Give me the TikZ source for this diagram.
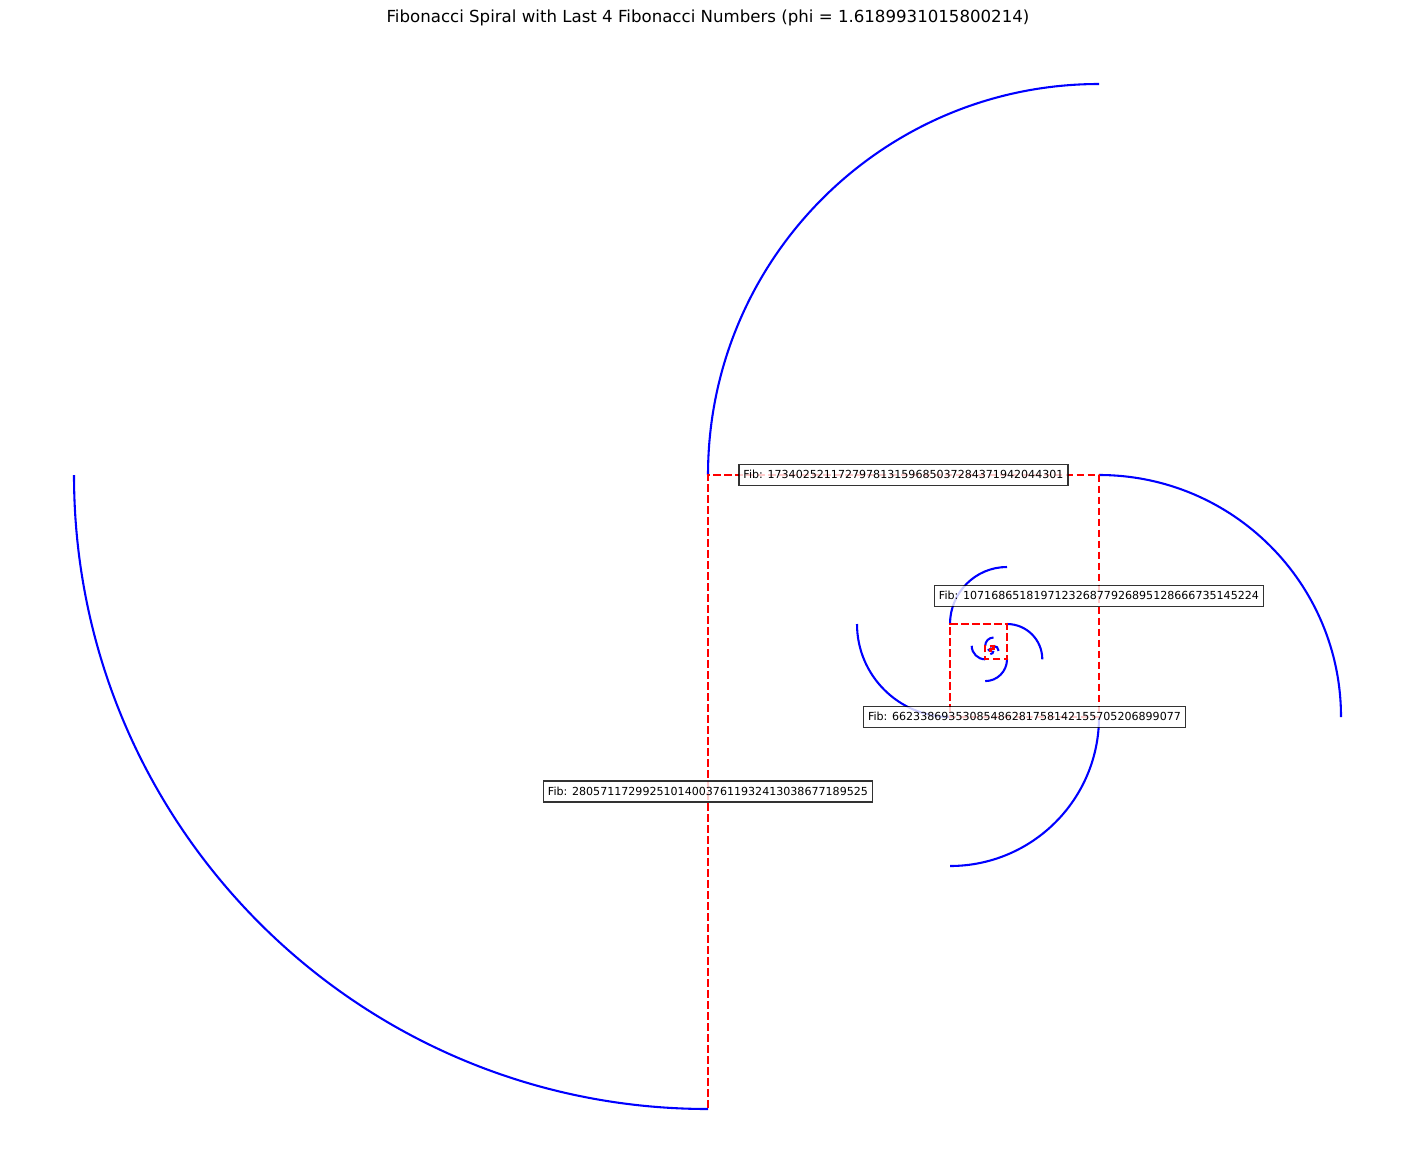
\documentclass[tikz,border=0pt]{standalone}
\usepackage{fontspec}
\setmainfont{DejaVu Sans}
\usetikzlibrary{calc}

\begin{document}
\begin{tikzpicture}[x=0.01in,y=-0.01in]
\tikzstyle{spiral}=[blue,line width=1.5pt]
\tikzstyle{guide}=[red,line width=1.5pt,dash pattern=on 5.55pt off 2.4pt]
\tikzstyle{fib}=[draw=black,fill=white,draw opacity=0.8,fill opacity=0.8,text opacity=1,line width=1pt,inner xsep=3.3pt,inner ysep=2.9pt,text height=7.4pt,text depth=1.9pt,font=\fontsize{8}{9}\selectfont]
\useasboundingbox (0,0) rectangle (1415,1170);
\node (title) at (708,18) {\fontsize{12}{14}\selectfont Fibonacci Spiral with Last 4 Fibonacci Numbers (phi = 1.6189931015800214)};
% centres of the quarter circles
\coordinate (c0) at (708,1108);
\coordinate (c1) at (708,475);
\coordinate (c2) at (1099,475);
\coordinate (c3) at (1099,717);
\coordinate (c4) at (950,717);
\coordinate (c5) at (950,624);
\coordinate (c6) at (1007,624);
\coordinate (c7) at (1007,659.3);
\coordinate (c8) at (985.2,659.3);
\coordinate (c9) at (985.2,645.8);
\coordinate (c10) at (993.5,645.8);
\coordinate (c11) at (993.5,650.9);
\coordinate (c12) at (990.3,650.9);
\coordinate (c13) at (990.3,648.9);
\coordinate (c14) at (991.5,648.9);
\coordinate (c15) at (991.5,649.7);
\foreach \c/\r/\a/\b in {c1/634/180/90,c2/391/180/270,c3/242/270/360,c4/149/0/90,
  c5/93/180/90,c6/57/180/270,c7/35.3/270/360,c8/21.8/0/90,
  c9/13.5/180/90,c10/8.3/180/270,c11/5.1/270/360,c12/3.2/0/90,
  c13/2/180/90,c14/1.2/180/270,c15/0.75/270/360}
  \draw[spiral] (\c) ++(\a:\r) arc[start angle=\a,end angle=\b,radius=\r];
\draw[guide] (c0) -- (c1) -- (c2) -- (c3) -- (c4) -- (c5) -- (c6) -- (c7) -- (c8)
  -- (c9) -- (c10) -- (c11) -- (c12) -- (c13) -- (c14) -- (c15);
\node[fib] (f200) at ($(c0)!0.5!(c1)$) {Fib: 280571172992510140037611932413038677189525};
\node[fib] (f199) at ($(c1)!0.5!(c2)$) {Fib: 173402521172797813159685037284371942044301};
\node[fib] (f198) at ($(c2)!0.5!(c3)$) {Fib: 107168651819712326877926895128666735145224};
\node[fib] (f197) at ($(c3)!0.5!(c4)$) {Fib: 66233869353085486281758142155705206899077};
\end{tikzpicture}
\end{document}
